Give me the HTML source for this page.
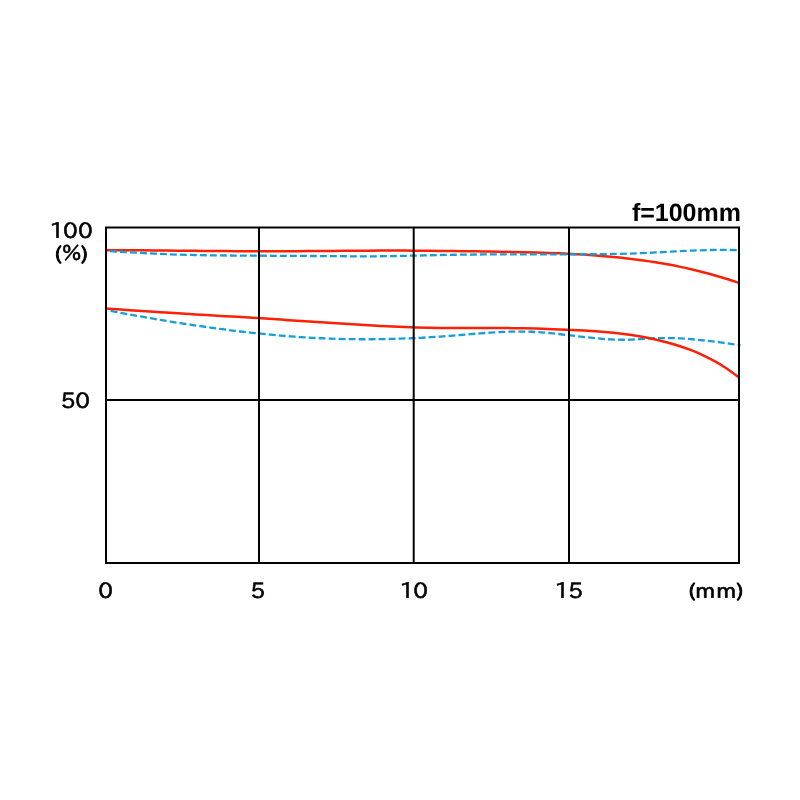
<!DOCTYPE html>
<html lang="en">
<head>
<meta charset="utf-8">
<title>MTF chart f=100mm</title>
<style>
  html, body { margin: 0; padding: 0; background: #ffffff; }
  body { width: 800px; height: 800px; overflow: hidden; }
  svg { display: block; }
  .lbl { font-family: "IPAPGothic", "NanumGothic", "Liberation Sans", sans-serif; font-size: 21.3px; fill: #000; stroke: #000; stroke-width: 0.25px; stroke-linejoin: round; text-rendering: geometricPrecision; }
  .ttl { font-family: "Liberation Sans", sans-serif; font-size: 25px; font-weight: bold; fill: #000; text-rendering: geometricPrecision; }
</style>
</head>
<body>
<svg width="800" height="800" viewBox="0 0 800 800">
  <rect x="0" y="0" width="800" height="800" fill="#ffffff"/>

  <!-- MTF curves -->
  <g fill="none" stroke-linecap="butt" stroke-linejoin="round">
    <path d="M106.00 250.15 C107.99 250.16 113.96 250.18 117.94 250.20 C121.92 250.22 125.91 250.25 129.89 250.27 C133.87 250.30 137.85 250.33 141.83 250.36 C145.81 250.40 149.79 250.43 153.77 250.46 C157.75 250.50 161.74 250.54 165.72 250.57 C169.70 250.61 173.68 250.65 177.66 250.69 C181.64 250.73 185.62 250.77 189.60 250.80 C193.58 250.84 197.57 250.88 201.55 250.91 C205.53 250.95 209.51 250.98 213.49 251.02 C217.47 251.05 221.45 251.08 225.43 251.11 C229.42 251.13 233.40 251.16 237.38 251.18 C241.36 251.20 245.34 251.22 249.32 251.24 C253.30 251.25 257.28 251.26 261.26 251.27 C265.25 251.27 269.23 251.27 273.21 251.27 C277.19 251.26 281.17 251.25 285.15 251.24 C289.13 251.22 293.11 251.20 297.09 251.18 C301.08 251.15 305.06 251.13 309.04 251.10 C313.02 251.07 317.00 251.03 320.98 251.00 C324.96 250.97 328.94 250.93 332.92 250.90 C336.91 250.86 340.89 250.83 344.87 250.80 C348.85 250.77 352.83 250.73 356.81 250.71 C360.79 250.68 364.77 250.66 368.75 250.64 C372.74 250.62 376.72 250.61 380.70 250.60 C384.68 250.59 388.66 250.59 392.64 250.60 C396.62 250.60 400.60 250.61 404.58 250.62 C408.57 250.64 412.55 250.66 416.53 250.68 C420.51 250.71 424.49 250.74 428.47 250.77 C432.45 250.80 436.43 250.84 440.42 250.88 C444.40 250.92 448.38 250.96 452.36 251.01 C456.34 251.06 460.32 251.11 464.30 251.16 C468.28 251.21 472.26 251.27 476.25 251.33 C480.23 251.39 484.21 251.45 488.19 251.51 C492.17 251.57 496.15 251.64 500.13 251.71 C504.11 251.78 508.09 251.85 512.08 251.94 C516.06 252.02 520.04 252.11 524.02 252.20 C528.00 252.30 531.98 252.40 535.96 252.52 C539.94 252.63 543.92 252.75 547.91 252.89 C551.89 253.03 555.87 253.18 559.85 253.35 C563.83 253.52 567.81 253.70 571.79 253.91 C575.77 254.11 579.75 254.34 583.74 254.59 C587.72 254.84 591.70 255.11 595.68 255.40 C599.66 255.70 603.64 256.03 607.62 256.38 C611.60 256.74 615.58 257.12 619.57 257.54 C623.55 257.95 627.53 258.40 631.51 258.89 C635.49 259.37 639.47 259.89 643.45 260.45 C647.43 261.01 651.42 261.61 655.40 262.25 C659.38 262.89 663.36 263.57 667.34 264.30 C671.32 265.03 675.30 265.81 679.28 266.63 C683.26 267.45 687.25 268.32 691.23 269.25 C695.21 270.17 699.19 271.14 703.17 272.18 C707.15 273.21 711.13 274.29 715.11 275.43 C719.09 276.58 723.08 277.78 727.06 279.04 C731.04 280.30 737.01 282.35 739.00 283.01" stroke="#fb2006" stroke-width="2.5"/>
    <path d="M110.00 251.14 C111.66 251.23 116.63 251.52 119.95 251.72 C123.27 251.91 126.59 252.11 129.90 252.30 C133.22 252.49 136.54 252.68 139.86 252.86 C143.17 253.04 146.49 253.22 149.81 253.39 C153.13 253.56 156.44 253.72 159.76 253.87 C163.08 254.02 166.40 254.15 169.71 254.28 C173.03 254.40 176.35 254.51 179.67 254.62 C182.98 254.72 186.30 254.81 189.62 254.89 C192.94 254.97 196.25 255.04 199.57 255.11 C202.89 255.17 206.21 255.23 209.52 255.28 C212.84 255.33 216.16 255.37 219.48 255.41 C222.79 255.45 226.11 255.48 229.43 255.51 C232.75 255.54 236.06 255.57 239.38 255.59 C242.70 255.61 246.02 255.63 249.33 255.65 C252.65 255.67 255.97 255.68 259.29 255.70 C262.60 255.72 265.92 255.74 269.24 255.75 C272.56 255.77 275.87 255.79 279.19 255.80 C282.51 255.82 285.83 255.84 289.14 255.85 C292.46 255.87 295.78 255.89 299.10 255.91 C302.41 255.93 305.73 255.95 309.05 255.97 C312.37 255.99 315.68 256.01 319.00 256.04 C322.32 256.06 325.63 256.08 328.95 256.11 C332.27 256.14 335.59 256.17 338.90 256.19 C342.22 256.22 345.54 256.25 348.86 256.27 C352.17 256.29 355.49 256.31 358.81 256.32 C362.13 256.33 365.44 256.34 368.76 256.33 C372.08 256.32 375.40 256.30 378.71 256.27 C382.03 256.24 385.35 256.19 388.67 256.14 C391.98 256.09 395.30 256.03 398.62 255.96 C401.94 255.89 405.25 255.82 408.57 255.74 C411.89 255.67 415.21 255.59 418.52 255.51 C421.84 255.43 425.16 255.35 428.48 255.27 C431.79 255.19 435.11 255.12 438.43 255.05 C441.75 254.98 445.06 254.92 448.38 254.86 C451.70 254.80 455.02 254.75 458.33 254.71 C461.65 254.66 464.97 254.62 468.29 254.59 C471.60 254.55 474.92 254.52 478.24 254.49 C481.56 254.47 484.87 254.45 488.19 254.43 C491.51 254.41 494.83 254.39 498.14 254.38 C501.46 254.37 504.78 254.36 508.10 254.35 C511.41 254.34 514.73 254.34 518.05 254.33 C521.37 254.33 524.68 254.33 528.00 254.32 C531.32 254.32 534.63 254.32 537.95 254.32 C541.27 254.32 544.59 254.32 547.90 254.32 C551.22 254.32 554.54 254.32 557.86 254.31 C561.17 254.31 564.49 254.31 567.81 254.30 C571.13 254.30 574.44 254.29 577.76 254.28 C581.08 254.27 584.40 254.26 587.71 254.24 C591.03 254.22 594.35 254.20 597.67 254.17 C600.98 254.14 604.30 254.10 607.62 254.05 C610.94 254.00 614.25 253.95 617.57 253.88 C620.89 253.81 624.21 253.73 627.52 253.63 C630.84 253.54 634.16 253.43 637.48 253.30 C640.79 253.18 644.11 253.03 647.43 252.88 C650.75 252.72 654.06 252.55 657.38 252.38 C660.70 252.20 664.02 252.02 667.33 251.84 C670.65 251.66 673.97 251.47 677.29 251.30 C680.60 251.13 683.92 250.95 687.24 250.80 C690.56 250.64 693.87 250.50 697.19 250.37 C700.51 250.25 703.83 250.14 707.14 250.06 C710.46 249.98 713.78 249.91 717.10 249.89 C720.41 249.86 723.73 249.86 727.05 249.91 C730.37 249.95 735.34 250.11 737.00 250.15" stroke="#149fdc" stroke-width="2.3" stroke-dasharray="6.9 3.1"/>
    <path d="M110.60 310.98 C112.27 311.30 117.27 312.24 120.60 312.86 C123.93 313.48 127.26 314.09 130.60 314.70 C133.93 315.30 137.26 315.90 140.60 316.49 C143.93 317.08 147.26 317.66 150.59 318.24 C153.93 318.81 157.26 319.38 160.59 319.94 C163.92 320.50 167.26 321.05 170.59 321.59 C173.92 322.13 177.26 322.66 180.59 323.18 C183.92 323.71 187.25 324.22 190.59 324.72 C193.92 325.23 197.25 325.72 200.59 326.21 C203.92 326.69 207.25 327.16 210.58 327.63 C213.92 328.09 217.25 328.54 220.58 328.98 C223.92 329.42 227.25 329.85 230.58 330.27 C233.91 330.69 237.25 331.10 240.58 331.49 C243.91 331.88 247.24 332.27 250.58 332.63 C253.91 333.00 257.24 333.36 260.58 333.70 C263.91 334.04 267.24 334.37 270.57 334.69 C273.91 335.00 277.24 335.30 280.57 335.59 C283.91 335.87 287.24 336.14 290.57 336.40 C293.90 336.65 297.24 336.89 300.57 337.11 C303.90 337.33 307.24 337.54 310.57 337.73 C313.90 337.92 317.23 338.09 320.57 338.25 C323.90 338.40 327.23 338.54 330.57 338.66 C333.90 338.78 337.23 338.88 340.56 338.96 C343.90 339.04 347.23 339.11 350.56 339.16 C353.89 339.21 357.23 339.24 360.56 339.26 C363.89 339.27 367.23 339.27 370.56 339.25 C373.89 339.24 377.22 339.20 380.56 339.15 C383.89 339.10 387.22 339.03 390.56 338.95 C393.89 338.87 397.22 338.77 400.55 338.65 C403.89 338.54 407.22 338.41 410.55 338.26 C413.89 338.12 417.22 337.96 420.55 337.78 C423.88 337.61 427.22 337.42 430.55 337.21 C433.88 337.00 437.21 336.78 440.55 336.55 C443.88 336.32 447.21 336.06 450.55 335.80 C453.88 335.54 457.21 335.26 460.54 334.98 C463.88 334.70 467.21 334.41 470.54 334.14 C473.88 333.86 477.21 333.58 480.54 333.32 C483.87 333.07 487.21 332.82 490.54 332.60 C493.87 332.39 497.21 332.18 500.54 332.03 C503.87 331.87 507.20 331.74 510.54 331.66 C513.87 331.58 517.20 331.53 520.53 331.55 C523.87 331.57 527.20 331.63 530.53 331.76 C533.87 331.89 537.20 332.09 540.53 332.33 C543.86 332.57 547.20 332.87 550.53 333.19 C553.86 333.51 557.20 333.88 560.53 334.25 C563.86 334.62 567.19 335.03 570.53 335.42 C573.86 335.81 577.19 336.23 580.53 336.61 C583.86 337.00 587.19 337.38 590.52 337.73 C593.86 338.08 597.19 338.41 600.52 338.69 C603.86 338.96 607.19 339.21 610.52 339.39 C613.85 339.56 617.19 339.70 620.52 339.74 C623.85 339.78 627.18 339.76 630.52 339.64 C633.85 339.53 637.18 339.27 640.52 339.06 C643.85 338.85 647.18 338.55 650.51 338.38 C653.85 338.21 657.18 338.09 660.51 338.04 C663.85 337.99 667.18 338.01 670.51 338.08 C673.84 338.15 677.18 338.28 680.51 338.46 C683.84 338.63 687.18 338.86 690.51 339.13 C693.84 339.39 697.17 339.71 700.51 340.05 C703.84 340.38 707.17 340.77 710.50 341.17 C713.84 341.57 717.17 342.00 720.50 342.45 C723.84 342.89 727.17 343.36 730.50 343.84 C733.83 344.31 738.83 345.06 740.50 345.30" stroke="#149fdc" stroke-width="2.3" stroke-dasharray="6.9 3.1"/>
    <path d="M106.00 308.40 C107.99 308.55 113.96 309.04 117.94 309.34 C121.92 309.64 125.91 309.94 129.89 310.22 C133.87 310.51 137.85 310.79 141.83 311.06 C145.81 311.33 149.79 311.59 153.77 311.85 C157.75 312.11 161.74 312.36 165.72 312.61 C169.70 312.86 173.68 313.10 177.66 313.34 C181.64 313.58 185.62 313.82 189.60 314.05 C193.58 314.29 197.57 314.52 201.55 314.75 C205.53 314.98 209.51 315.21 213.49 315.44 C217.47 315.68 221.45 315.91 225.43 316.14 C229.42 316.37 233.40 316.61 237.38 316.85 C241.36 317.08 245.34 317.32 249.32 317.57 C253.30 317.81 257.28 318.06 261.26 318.32 C265.25 318.57 269.23 318.83 273.21 319.09 C277.19 319.35 281.17 319.62 285.15 319.89 C289.13 320.15 293.11 320.42 297.09 320.69 C301.08 320.96 305.06 321.23 309.04 321.50 C313.02 321.77 317.00 322.04 320.98 322.30 C324.96 322.57 328.94 322.83 332.92 323.09 C336.91 323.35 340.89 323.61 344.87 323.86 C348.85 324.11 352.83 324.35 356.81 324.59 C360.79 324.83 364.77 325.06 368.75 325.28 C372.74 325.51 376.72 325.72 380.70 325.93 C384.68 326.13 388.66 326.33 392.64 326.52 C396.62 326.70 400.60 326.88 404.58 327.04 C408.57 327.20 412.55 327.35 416.53 327.48 C420.51 327.61 424.49 327.73 428.47 327.82 C432.45 327.92 436.43 327.99 440.42 328.04 C444.40 328.08 448.38 328.10 452.36 328.12 C456.34 328.13 460.32 328.12 464.30 328.11 C468.28 328.10 472.26 328.08 476.25 328.06 C480.23 328.05 484.21 328.03 488.19 328.02 C492.17 328.02 496.15 328.01 500.13 328.03 C504.11 328.05 508.09 328.09 512.08 328.14 C516.06 328.19 520.04 328.25 524.02 328.33 C528.00 328.41 531.98 328.51 535.96 328.62 C539.94 328.73 543.92 328.85 547.91 328.99 C551.89 329.12 555.87 329.27 559.85 329.43 C563.83 329.59 567.81 329.76 571.79 329.95 C575.77 330.14 579.75 330.33 583.74 330.56 C587.72 330.79 591.70 331.03 595.68 331.32 C599.66 331.60 603.64 331.92 607.62 332.29 C611.60 332.65 615.58 333.06 619.57 333.53 C623.55 333.99 627.53 334.51 631.51 335.10 C635.49 335.69 639.47 336.33 643.45 337.06 C647.43 337.80 651.42 338.59 655.40 339.49 C659.38 340.38 663.36 341.35 667.34 342.42 C671.32 343.50 675.30 344.65 679.28 345.95 C683.26 347.24 687.25 348.62 691.23 350.18 C695.21 351.74 699.19 353.41 703.17 355.29 C707.15 357.16 711.13 359.18 715.11 361.42 C719.09 363.66 723.08 366.07 727.06 368.73 C731.04 371.39 737.01 375.94 739.00 377.38" stroke="#fb2006" stroke-width="2.5"/>
  </g>

  <!-- grid / frame -->
  <g fill="none" stroke="#000000" stroke-width="2" shape-rendering="auto">
    <line x1="259" y1="227.55" x2="259" y2="563"/>
    <line x1="413.7" y1="227.55" x2="413.7" y2="563"/>
    <line x1="569" y1="227.55" x2="569" y2="563"/>
    <line x1="106" y1="400" x2="739" y2="400"/>
    <path d="M106 227.55 H739 V563 H106 Z" stroke-linejoin="miter"/>
  </g>

  <!-- title -->
  <text class="ttl" x="741" y="220.7" text-anchor="end">f=100mm</text>

  <!-- y axis labels -->
  <text class="lbl" transform="scale(1.1,1)" text-anchor="middle"><tspan x="51.71 64.05 77.73" y="238" font-size="21.3" stroke-width="0.55">100</tspan></text>
  <text class="lbl" transform="scale(1.11,1)" text-anchor="middle"><tspan x="52.40" y="260" font-size="18.85" stroke-width="0.9">(</tspan><tspan x="64.47" y="260" font-size="20.5" stroke-width="0.5">%</tspan><tspan x="76.13" y="260" font-size="18.85" stroke-width="0.9">)</tspan></text>
  <text class="lbl" transform="scale(1.1,1)" text-anchor="middle"><tspan x="61.84 75.09" y="408" font-size="21.3" stroke-width="0.55">50</tspan></text>

  <!-- x axis labels -->
  <text class="lbl" transform="scale(1.1,1)" text-anchor="middle"><tspan x="96.00" y="598" font-size="21.3" stroke-width="0.55">0</tspan></text>
  <text class="lbl" transform="scale(1.1,1)" text-anchor="middle"><tspan x="234.43" y="598" font-size="21.3" stroke-width="0.55">5</tspan></text>
  <text class="lbl" transform="scale(1.1,1)" text-anchor="middle"><tspan x="369.98 382.50" y="598" font-size="21.3" stroke-width="0.55">10</tspan></text>
  <text class="lbl" transform="scale(1.1,1)" text-anchor="middle"><tspan x="510.89 523.25" y="598" font-size="21.3" stroke-width="0.55">15</tspan></text>
  <text class="lbl" transform="scale(1.11,1)" text-anchor="middle"><tspan x="623.30" y="597" font-size="18.6" stroke-width="0.9">(</tspan><tspan x="635.45 654.19" y="598" font-size="21.2" stroke-width="0.6">mm</tspan><tspan x="666.57" y="597" font-size="18.6" stroke-width="0.9">)</tspan></text>
</svg>
</body>
</html>
